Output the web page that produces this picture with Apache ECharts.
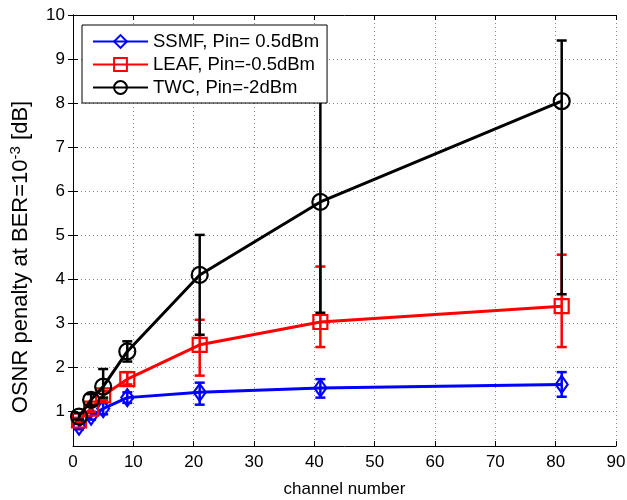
<!DOCTYPE html>
<html>
<head>
<meta charset="utf-8">
<script src="https://cdn.jsdelivr.net/npm/echarts@6/dist/echarts.min.js"></script>
<style>
  html, body { margin: 0; padding: 0; background: #fff; }
  #chart { width: 627px; height: 500px; }
</style>
</head>
<body>
<div id="chart"></div>
<script>
// channel counts on the x axis
const channels = [1, 3, 5, 9, 21, 41, 81];
const yTicks = [1, 2, 3, 4, 5, 6, 7, 8, 9, 10];

// OSNR penalty (dB), mean and error bar ends
const ssmf = [0.65, 0.88, 1.05, 1.3, 1.42, 1.52, 1.6];
const ssmfLow = [0.58, 0.8, 0.92, 1.18, 1.14, 1.3, 1.32];
const ssmfHigh = [0.72, 0.96, 1.18, 1.42, 1.64, 1.72, 1.88];

const leaf = [0.78, 1.05, 1.35, 1.72, 2.5, 3.02, 3.38];
const leafLow = [0.72, 0.98, 1.25, 1.6, 1.8, 2.45, 2.45];
const leafHigh = [0.84, 1.14, 1.45, 1.88, 3.07, 4.28, 4.55];

const twc = [0.87, 1.25, 1.55, 2.35, 4.09, 5.75, 8.04];
const twcLow = [0.8, 1.12, 1.3, 2.12, 2.73, 3.23, 3.65];
const twcHigh = [0.95, 1.38, 1.95, 2.58, 5.0, 8.27, 9.42];

const names = ['SSMF, Pin= 0.5dBm', 'LEAF, Pin=-0.5dBm', 'TWC, Pin=-2dBm'];

const FONT = 'Liberation Sans, Arial, sans-serif';

const pairs = (ys) => channels.map((c, i) => [c, ys[i]]);
const bars = (lo, hi) => channels.map((c, i) => [c, lo[i], hi[i]]);

function errorSeries(data, color, z) {
  return {
    type: 'custom',
    z: z,
    silent: true,
    data: data,
    renderItem: (params, api) => {
      const x = api.value(0);
      const p1 = api.coord([x, api.value(1)]);
      const p2 = api.coord([x, api.value(2)]);
      const cap = 5;
      const style = { stroke: color, lineWidth: 2.5, fill: null };
      return {
        type: 'group',
        children: [
          { type: 'line', shape: { x1: p1[0], y1: p1[1], x2: p2[0], y2: p2[1] }, style },
          { type: 'line', shape: { x1: p1[0] - cap, y1: p1[1], x2: p1[0] + cap, y2: p1[1] }, style },
          { type: 'line', shape: { x1: p2[0] - cap, y1: p2[1], x2: p2[0] + cap, y2: p2[1] }, style }
        ]
      };
    }
  };
}

function lineSeries(name, data, color, symbol, size, z) {
  return {
    type: 'line',
    name: name,
    z: z,
    data: data,
    symbol: symbol,
    symbolSize: size,
    showAllSymbol: true,
    lineStyle: { color: color, width: 3 },
    itemStyle: { color: 'transparent', borderColor: color, borderWidth: 2.2 }
  };
}

const chart = echarts.init(document.getElementById('chart'));

const tickStyle = { inside: true, length: 5, lineStyle: { color: '#000' } };

chart.setOption({
  animation: false,
  backgroundColor: '#fff',
  textStyle: { fontFamily: FONT },
  grid: { left: 73, right: 11, top: 15, bottom: 54, outerBoundsMode: 'none' },
  legend: {
    data: names,
    z: 20,
    orient: 'vertical',
    left: 82,
    top: 25,
    padding: [7, 8, 6, 10],
    itemWidth: 55,
    itemHeight: 16,
    itemGap: 4,
    backgroundColor: '#fff',
    borderColor: '#000',
    borderWidth: 1,
    textStyle: { fontFamily: FONT, fontSize: 18.5, color: '#000' }
  },
  xAxis: [
    {
      type: 'value',
      min: 0,
      max: 90,
      interval: 10,
      name: 'channel number',
      nameLocation: 'middle',
      nameGap: 35,
      nameTextStyle: { fontFamily: FONT, fontSize: 17, color: '#000' },
      axisLine: { lineStyle: { color: '#000' } },
      axisTick: tickStyle,
      axisLabel: { fontFamily: FONT, fontSize: 17, color: '#000', margin: 8 },
      splitLine: { lineStyle: { color: '#888', type: [1, 3] } }
    },
    {
      type: 'value',
      position: 'top',
      min: 0,
      max: 90,
      interval: 10,
      axisLine: { lineStyle: { color: '#000' } },
      axisTick: tickStyle,
      axisLabel: { show: false },
      splitLine: { show: false }
    }
  ],
  yAxis: [
    {
      type: 'value',
      min: 0.2,
      max: 10,
      axisLine: { show: true, lineStyle: { color: '#000' } },
      axisTick: Object.assign({ customValues: yTicks }, tickStyle),
      axisLabel: { customValues: yTicks, fontFamily: FONT, fontSize: 17, color: '#000', margin: 8 },
      splitLine: { lineStyle: { color: '#888', type: [1, 3] } }
    },
    {
      type: 'value',
      position: 'right',
      min: 0.2,
      max: 10,
      axisLine: { show: true, lineStyle: { color: '#000' } },
      axisTick: Object.assign({ customValues: yTicks }, tickStyle),
      axisLabel: { show: false },
      splitLine: { show: false }
    }
  ],
  graphic: [
    {
      type: 'text',
      x: 21,
      y: 257,
      rotation: Math.PI / 2,
      style: {
        text: 'OSNR penalty at BER=10{sup|-3} [dB]',
        fontFamily: FONT,
        fontSize: 22,
        fill: '#000',
        align: 'center',
        verticalAlign: 'middle',
        rich: {
          sup: { fontFamily: FONT, fontSize: 15, fill: '#000', padding: [0, 0, 11, 0] }
        }
      }
    }
  ],
  series: [
    lineSeries(names[0], pairs(ssmf), '#0000ff', 'diamond', [12, 17], 2),
    errorSeries(bars(ssmfLow, ssmfHigh), '#0000ff', 2),
    lineSeries(names[1], pairs(leaf), '#ff0000', 'rect', 14, 3),
    errorSeries(bars(leafLow, leafHigh), '#ff0000', 3),
    lineSeries(names[2], pairs(twc), '#000000', 'circle', 16, 4),
    errorSeries(bars(twcLow, twcHigh), '#000000', 4)
  ]
});
</script>
</body>
</html>
